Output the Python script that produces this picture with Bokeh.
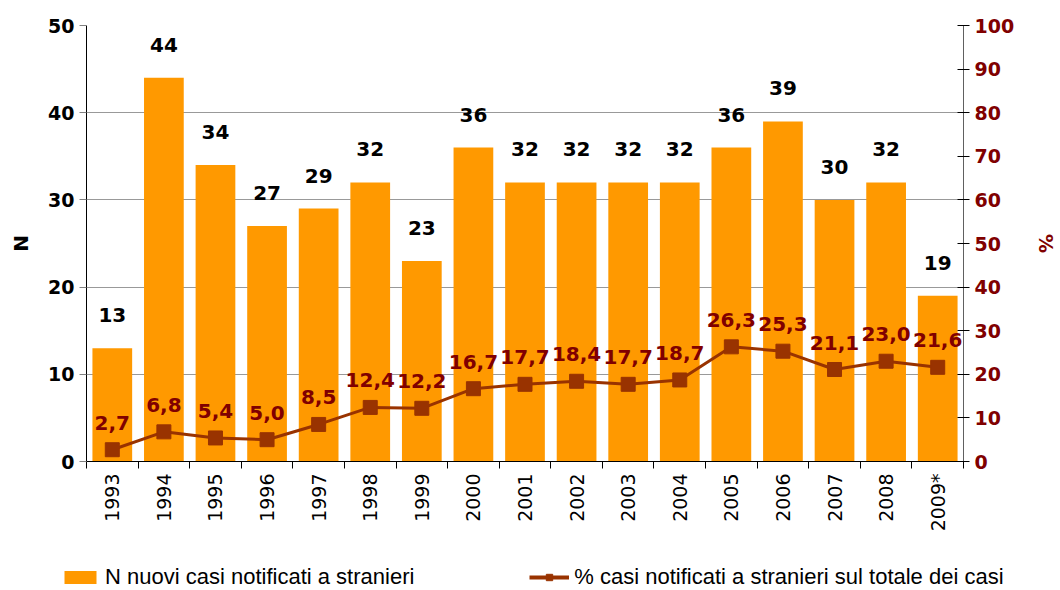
from bokeh.plotting import figure
from bokeh.layouts import column
from bokeh.models import (ColumnDataSource, Range1d, LinearAxis, FixedTicker,
                          Legend, LegendItem)
from bokeh.core.properties import value
from bokeh.embed import file_html
from bokeh.resources import INLINE
import math

# --- data ---
years = ["1993", "1994", "1995", "1996", "1997", "1998", "1999", "2000", "2001",
         "2002", "2003", "2004", "2005", "2006", "2007", "2008", "2009*"]
n_cases = [13, 44, 34, 27, 29, 32, 23, 36, 32, 32, 32, 32, 36, 39, 30, 32, 19]
pct_foreign = [2.7, 6.8, 5.4, 5.0, 8.5, 12.4, 12.2, 16.7, 17.7, 18.4, 17.7, 18.7,
               26.3, 25.3, 21.1, 23.0, 21.6]

BAR = "#FF9900"
LINE = "#993300"
DARKRED = "#800000"
FONT = "DejaVu Sans"

xs = list(range(len(years)))
src = ColumnDataSource(dict(
    x=xs, n=n_cases, pct=pct_foreign,
    n_lab=[str(v) for v in n_cases],
    pct_lab=[f"{v:.1f}".replace(".", ",") for v in pct_foreign],
))

p = figure(width=1060, height=555, output_backend="svg", toolbar_location=None,
           x_range=Range1d(-0.5, len(years) - 0.5), y_range=Range1d(0, 50),
           min_border_left=86, min_border_right=88, min_border_top=25,
           min_border_bottom=94)
p.outline_line_color = None
p.background_fill_color = "white"
p.border_fill_color = "white"
p.frame_align = False

p.extra_y_ranges = {"pct": Range1d(0, 100)}

# bars: new cases among foreigners
bars = p.vbar(x="x", top="n", width=0.77, source=src, fill_color=BAR,
              line_color=None)

# line: share of foreign cases (%)
ln = p.line(x="x", y="pct", source=src, y_range_name="pct", line_color=LINE,
            line_width=3)
mk = p.scatter(x="x", y="pct", source=src, y_range_name="pct", marker="square",
               size=14, fill_color=LINE, line_color=LINE)

# value labels
p.text(x="x", y="n", text="n_lab", source=src, text_align="center",
       text_baseline="bottom", y_offset=-26, text_font=value(FONT),
       text_font_style="bold", text_font_size="20px", text_color="black")
p.text(x="x", y="pct", text="pct_lab", source=src, y_range_name="pct",
       text_align="center", text_baseline="bottom", y_offset=-20,
       text_font=value(FONT), text_font_style="bold", text_font_size="20px",
       text_color=DARKRED)

# x axis: year labels at centers, tick marks at category boundaries
xa = p.xaxis[0]
xa.ticker = FixedTicker(ticks=xs, minor_ticks=[i - 0.5 for i in range(len(years) + 1)])
xa.major_label_overrides = {i: y for i, y in enumerate(years)}
xa.major_label_orientation = math.pi / 2
xa.major_tick_out = 0
xa.major_tick_in = 0
xa.minor_tick_out = 7
xa.minor_tick_in = 0
xa.minor_tick_line_color = "black"
xa.axis_line_color = "black"
xa.major_label_text_font = FONT
xa.major_label_text_font_size = "19px"
xa.major_label_text_color = "black"
xa.major_label_standoff = 5

# left axis
ya = p.yaxis[0]
ya.ticker = FixedTicker(ticks=[0, 10, 20, 30, 40, 50])
ya.axis_label = "N"
ya.axis_label_text_font = FONT
ya.axis_label_text_font_style = "bold"
ya.axis_label_text_font_size = "20px"
ya.axis_label_text_color = "black"
ya.axis_label_standoff = 12
ya.major_label_text_font = FONT
ya.major_label_text_font_style = "bold"
ya.major_label_text_font_size = "19px"
ya.major_label_text_color = "black"
ya.major_tick_out = 7
ya.major_tick_in = 0
ya.minor_tick_line_color = None
ya.axis_line_color = "black"
ya.major_tick_line_color = "#808080"

# right axis (%)
ra = LinearAxis(y_range_name="pct", ticker=FixedTicker(ticks=list(range(0, 101, 10))))
ra.axis_label = "%"
ra.axis_label_text_font = FONT
ra.axis_label_text_font_style = "bold"
ra.axis_label_text_font_size = "19px"
ra.axis_label_text_color = DARKRED
ra.axis_label_standoff = 18
ra.major_label_text_font = FONT
ra.major_label_text_font_style = "bold"
ra.major_label_text_font_size = "19px"
ra.major_label_text_color = DARKRED
ra.major_tick_out = 6
ra.major_tick_in = 6
ra.minor_tick_line_color = None
ra.axis_line_color = "#606060"
ra.major_tick_line_color = "black"
p.add_layout(ra, "right")

# grid
p.xgrid.grid_line_color = None
p.ygrid[0].ticker = FixedTicker(ticks=[10, 20, 30, 40, 50])
p.ygrid.grid_line_color = "#999999"

# legend strip under the chart; swatch renderers sit outside the visible range
lg = figure(width=1060, height=35, output_backend="svg", toolbar_location=None,
            x_range=Range1d(0, 1), y_range=Range1d(0, 1), min_border=0)
lg.frame_align = False
lg.axis.visible = False
lg.grid.visible = False
lg.outline_line_color = None
offscreen = ColumnDataSource(dict(x=[-10, -9], y=[-10, -10], top=[-10, -10]))
sw_bar = lg.vbar(x="x", top="top", width=0.1, source=offscreen, fill_color=BAR,
                 line_color=None)
sw_line = lg.line(x="x", y="y", source=offscreen, line_color=LINE, line_width=4)
sw_mark = lg.scatter(x="x", y="y", source=offscreen, marker="square", size=14,
                     fill_color=LINE, line_color=LINE)

legend = Legend(items=[
    LegendItem(label="N nuovi casi notificati a stranieri", renderers=[sw_bar]),
    LegendItem(label="% casi notificati a stranieri sul totale dei casi",
               renderers=[sw_line, sw_mark]),
], orientation="horizontal", location=(60, 0))
legend.label_text_font = "Liberation Sans"
legend.label_text_font_size = "22px"
legend.label_text_color = "black"
legend.glyph_width = 40
legend.glyph_height = 16
legend.label_standoff = 5
legend.spacing = 115
legend.border_line_color = None
legend.background_fill_alpha = 0
legend.padding = 0
legend.margin = 0
lg.add_layout(legend, "center")

layout = column(p, lg, spacing=0)
open("out.html", "w").write(file_html(layout, INLINE))
